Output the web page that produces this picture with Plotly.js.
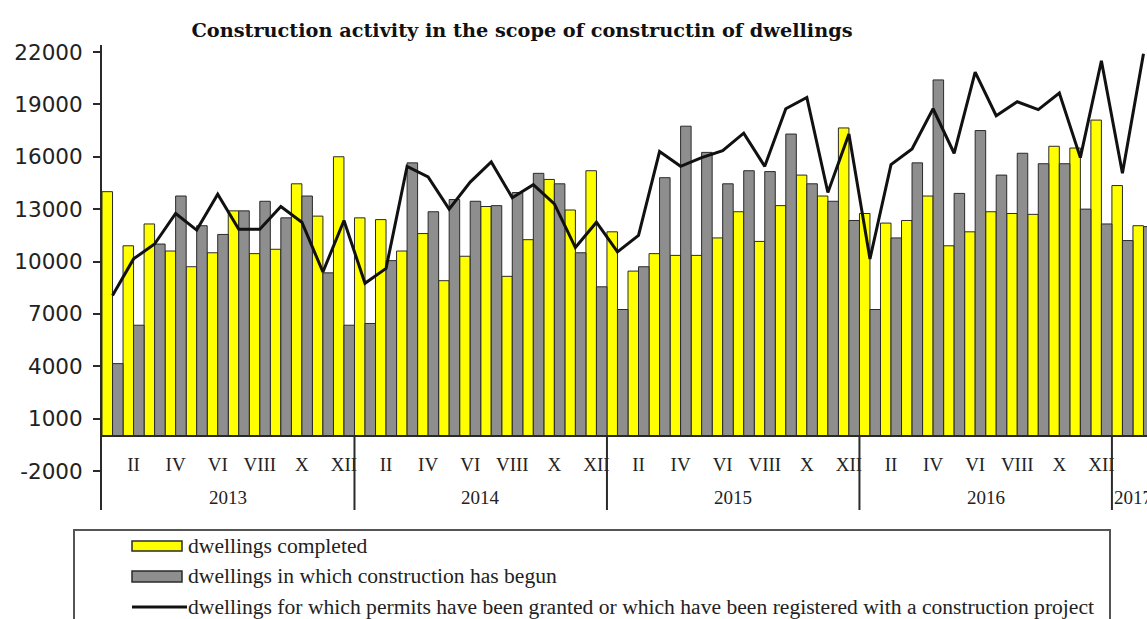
<!DOCTYPE html>
<html>
<head>
<meta charset="utf-8">
<script src="https://cdn.plot.ly/plotly-3.0.1.min.js"></script>
<style>
html,body{margin:0;padding:0;background:#fff;overflow:hidden;}
#chart{width:1147px;height:619px;}
</style>
</head>
<body>
<div id="chart"></div>
<script>
// ---- data ----
const years = ["2013", "2014", "2015", "2016", "2017"];
const monthsPerYear = [12, 12, 12, 12, 2];
const romanMonths = ["I","II","III","IV","V","VI","VII","VIII","IX","X","XI","XII"];
const labelledMonths = ["II","IV","VI","VIII","X","XII"];

const completed = [
  14000, 10900, 12150, 10600, 9700, 10500, 12900, 10450, 10700, 14450, 12600, 16000,
  12500, 12400, 10600, 11600, 8900, 10300, 13150, 9150, 11250, 14700, 12950, 15200,
  11700, 9450, 10450, 10350, 10350, 11350, 12850, 11150, 13200, 14950, 13750, 17650,
  12750, 12200, 12350, 13750, 10900, 11700, 12850, 12750, 12700, 16600, 16500, 18100,
  14350, 12050
];
const begun = [
  4150, 6350, 11000, 13750, 12050, 11550, 12900, 13450, 12500, 13750, 9350, 6350,
  6450, 10050, 15650, 12850, 13550, 13450, 13200, 13950, 15050, 14450, 10500, 8550,
  7250, 9700, 14800, 17750, 16250, 14450, 15200, 15150, 17300, 14450, 13450, 12350,
  7250, 11350, 15650, 20400, 13900, 17500, 14950, 16200, 15600, 15600, 13000, 12150,
  11200, 12000
];
const permits = [
  8050, 10150, 11000, 12750, 11800, 13850, 11850, 11850, 13150, 12250, 9400, 12350,
  8750, 9600, 15450, 14850, 13000, 14550, 15700, 13650, 14400, 13300, 10800, 12250,
  10550, 11500, 16300, 15450, 15950, 16350, 17350, 15450, 18750, 19400, 13950, 17300,
  10150, 15550, 16450, 18750, 16200, 20850, 18350, 19150, 18700, 19650, 15950, 21500,
  15050, 21900
];
const yTicks = [-2000, 1000, 4000, 7000, 10000, 13000, 16000, 19000, 22000];
const yTickText = ["-2000", "1000", "4000", "7000", "10000", "13000", "16000", "19000", "22000"];
const seriesNames = [
  "dwellings completed",
  "dwellings in which construction has begun",
  "dwellings for which permits have been granted or which have been registered with a construction project"
];
const titleText = "Construction activity in the scope of constructin of dwellings";

// ---- build category positions ----
const xIdx = [], tickVals = [], tickText = [], yearMid = [], yearBounds = [];
let k = 0;
years.forEach((y, yi) => {
  const start = k;
  for (let m = 0; m < monthsPerYear[yi]; m++) {
    xIdx.push(k);
    if (labelledMonths.includes(romanMonths[m])) { tickVals.push(k); tickText.push(romanMonths[m]); }
    k++;
  }
  yearMid.push((start + k - 1) / 2);
  if (yi > 0) yearBounds.push(start - 0.5);
});

// ---- geometry (pixels) ----
const W = 1147, H = 619;
const mL = 102, mR = 0, mT = 45, mB = 109;
const plotW = W - mL - mR, plotH = H - mT - mB;
const yMin = -4234, yMax = 22401;
const pxX = p => (p - mL) / plotW;
const pxY = p => (H - mB - p) / plotH;

const serif = "Liberation Serif, Times New Roman, serif";
const edge = "#2a2a2a";

const traces = [
  { type: "bar", x: xIdx, y: completed, name: seriesNames[0],
    marker: { color: "#ffff00", line: { color: edge, width: 1 } }, showlegend: false },
  { type: "bar", x: xIdx, y: begun, name: seriesNames[1],
    marker: { color: "#8e8e8e", line: { color: edge, width: 1 } }, showlegend: false },
  { type: "scatter", mode: "lines", x: xIdx, y: permits, name: seriesNames[2],
    line: { color: "#111", width: 3 }, showlegend: false }
];

const shapes = [];
yearBounds.forEach(b => shapes.push({
  type: "line", xref: "x", yref: "y", x0: b, x1: b, y0: 0, y1: yMin,
  line: { color: edge, width: 2 }
}));
// legend frame
shapes.push({ type: "rect", xref: "paper", yref: "paper",
  x0: pxX(74), x1: pxX(1110), y0: pxY(530), y1: pxY(640),
  line: { color: "#555", width: 2 }, fillcolor: "rgba(0,0,0,0)" });
// legend swatches
shapes.push({ type: "rect", xref: "paper", yref: "paper",
  x0: pxX(132), x1: pxX(182), y0: pxY(541), y1: pxY(551),
  line: { color: edge, width: 1.5 }, fillcolor: "#ffff00" });
shapes.push({ type: "rect", xref: "paper", yref: "paper",
  x0: pxX(132), x1: pxX(182), y0: pxY(571), y1: pxY(582),
  line: { color: edge, width: 1.5 }, fillcolor: "#8e8e8e" });
shapes.push({ type: "line", xref: "paper", yref: "paper",
  x0: pxX(132), x1: pxX(187), y0: pxY(607), y1: pxY(607),
  line: { color: "#111", width: 3 } });

const annotations = [];
years.forEach((y, i) => annotations.push({
  x: yearMid[i], y: -3500, xref: "x", yref: "y", text: y, showarrow: false,
  font: { family: serif, size: 19, color: "#222" }, xanchor: "center", yanchor: "middle"
}));
[546, 576, 607].forEach((py, i) => annotations.push({
  x: pxX(186), y: pxY(py), xref: "paper", yref: "paper", text: seriesNames[i], showarrow: false,
  font: { family: serif, size: 21.6, color: "#222" }, xanchor: "left", yanchor: "middle"
}));

const layout = {
  width: W, height: H,
  margin: { l: mL, r: mR, t: mT, b: mB, pad: 0 },
  paper_bgcolor: "#fff", plot_bgcolor: "#fff",
  title: { text: titleText, x: 522 / W, xref: "container", xanchor: "center",
    y: 1 - 30 / H, yref: "container", yanchor: "middle",
    font: { family: "DejaVu Serif, serif", size: 19.3, color: "#111", weight: "bold" } },
  barmode: "group", bargap: 0, bargroupgap: 0,
  xaxis: {
    range: [-0.5, -0.5 + plotW / 21.04], anchor: "free", position: (0 - yMin) / (yMax - yMin),
    showline: true, linecolor: edge, linewidth: 2, showgrid: false, zeroline: false,
    tickmode: "array", tickvals: tickVals, ticktext: tickText, ticks: "",
    tickfont: { family: serif, size: 19, color: "#222" }, ticklabelstandoff: 11
  },
  yaxis: {
    range: [yMin, yMax], showline: true, linecolor: edge, linewidth: 2,
    showgrid: false, zeroline: false,
    tickmode: "array", tickvals: yTicks, ticktext: yTickText, ticks: "outside", ticklen: 7, tickwidth: 2, tickcolor: edge,
    tickfont: { family: "DejaVu Sans, sans-serif", size: 21.5, color: "#222" }, ticklabelstandoff: 6
  },
  yaxis2: {
    overlaying: "y", side: "left", range: [yMin, yMax], showline: false, showgrid: false,
    zeroline: false, tickmode: "array", tickvals: yTicks, ticks: "inside", ticklen: 7,
    tickwidth: 2, tickcolor: edge, showticklabels: false
  },
  shapes: shapes,
  annotations: annotations,
  showlegend: false
};

Plotly.newPlot("chart", traces, layout, { displayModeBar: false, staticPlot: true });
</script>
</body>
</html>
